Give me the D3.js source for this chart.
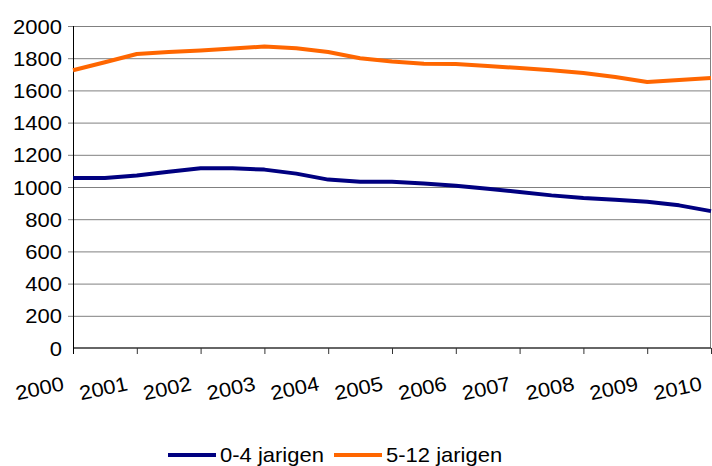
<!DOCTYPE html>
<html>
<head>
<meta charset="utf-8">
<script src="https://cdn.jsdelivr.net/npm/d3@7"></script>
<style>
  body { margin: 0; background: #fff; }
  text { font-family: "Liberation Sans", Arial, sans-serif; fill: #000; }
</style>
</head>
<body>
<div id="chart"></div>
<script>
// data (half-year points, ticks on whole years)
var periods = [2000, 2000.5, 2001, 2001.5, 2002, 2002.5, 2003, 2003.5, 2004, 2004.5, 2005,
               2005.5, 2006, 2006.5, 2007, 2007.5, 2008, 2008.5, 2009, 2009.5, 2010];
var young = [1056, 1056, 1072, 1095, 1117, 1117, 1108, 1083, 1046, 1033, 1033,
             1021, 1008, 989, 969, 948, 932, 921, 909, 886, 850];
var older = [1725, 1775, 1826, 1838, 1848, 1860, 1872, 1862, 1838, 1800, 1780,
             1766, 1764, 1751, 1739, 1725, 1708, 1683, 1652, 1664, 1677];
var years = [2000, 2001, 2002, 2003, 2004, 2005, 2006, 2007, 2008, 2009, 2010];
var yTicks = [0, 200, 400, 600, 800, 1000, 1200, 1400, 1600, 1800, 2000];
var seriesNames = ["0-4 jarigen", "5-12 jarigen"];
var seriesColors = ["#000080", "#ff6600"];

var width = 712, height = 466;
var plotLeft = 73, plotRight = 711, plotTop = 26, plotBottom = 348;
var sx = 1.1; // text looks a bit stretched sideways

var svg = d3.select("#chart").append("svg")
  .attr("width", width)
  .attr("height", height);

var x = d3.scaleLinear().domain([2000, 2010]).range([plotLeft, plotRight]);
var y = d3.scaleLinear().domain([0, 2000]).range([plotBottom, plotTop]);

// grid lines
svg.selectAll(".grid")
  .data(yTicks.slice(1))
  .enter()
  .append("line")
  .attr("x1", plotLeft - 5)
  .attr("x2", plotRight)
  .attr("y1", function(d) { return y(d) + 0.5; })
  .attr("y2", function(d) { return y(d) + 0.5; })
  .attr("stroke", "#808080")
  .attr("stroke-width", 1);

// right border
svg.append("line")
  .attr("x1", plotRight - 0.5).attr("x2", plotRight - 0.5)
  .attr("y1", plotTop).attr("y2", plotBottom)
  .attr("stroke", "#808080");

// y labels
svg.selectAll(".ylab")
  .data(yTicks)
  .enter()
  .append("text")
  .attr("text-anchor", "end")
  .attr("font-size", "20px")
  .attr("transform", function(d) {
    return "translate(62," + (y(d) + 7.5) + ") scale(" + sx + ",1)";
  })
  .text(function(d) { return d; });

// x axis
var xAxis = d3.axisBottom(x)
  .tickValues(years)
  .tickSize(6)
  .tickFormat("");
var gx = svg.append("g")
  .attr("transform", "translate(0," + plotBottom + ")")
  .call(xAxis);
gx.select(".domain").attr("stroke", "#333").attr("stroke-width", 1.5).attr("d", "M" + plotLeft + ",0H" + plotRight);
gx.selectAll(".tick line").attr("stroke", "#333");

// y axis line
svg.append("line")
  .attr("x1", plotLeft + 0.5).attr("x2", plotLeft + 0.5)
  .attr("y1", plotTop).attr("y2", plotBottom + 6)
  .attr("stroke", "#000");

// x labels, rotated
svg.selectAll(".xlab")
  .data(years)
  .enter()
  .append("text")
  .attr("text-anchor", "end")
  .attr("font-size", "20px")
  .attr("transform", function(d) {
    return "translate(" + (x(d) - 8) + ",390) rotate(-12) scale(" + sx + ",1)";
  })
  .text(function(d) { return d; });

// lines
var line = d3.line()
  .x(function(d) { return x(d[0]); })
  .y(function(d) { return y(d[1]); });

[young, older].forEach(function(vals, i) {
  svg.append("path")
    .datum(periods.map(function(p, j) { return [p, vals[j]]; }))
    .attr("d", line)
    .attr("fill", "none")
    .attr("stroke", seriesColors[i])
    .attr("stroke-width", 4)
    .attr("stroke-linejoin", "round");
});

// legend
var legendX = [168, 334];
seriesNames.forEach(function(name, i) {
  svg.append("line")
    .attr("x1", legendX[i]).attr("x2", legendX[i] + 48)
    .attr("y1", 455).attr("y2", 455)
    .attr("stroke", seriesColors[i])
    .attr("stroke-width", 4);
  svg.append("text")
    .attr("font-size", "20px")
    .attr("transform", "translate(" + (legendX[i] + 52) + ",462) scale(" + sx + ",1)")
    .text(name);
});
</script>
</body>
</html>
